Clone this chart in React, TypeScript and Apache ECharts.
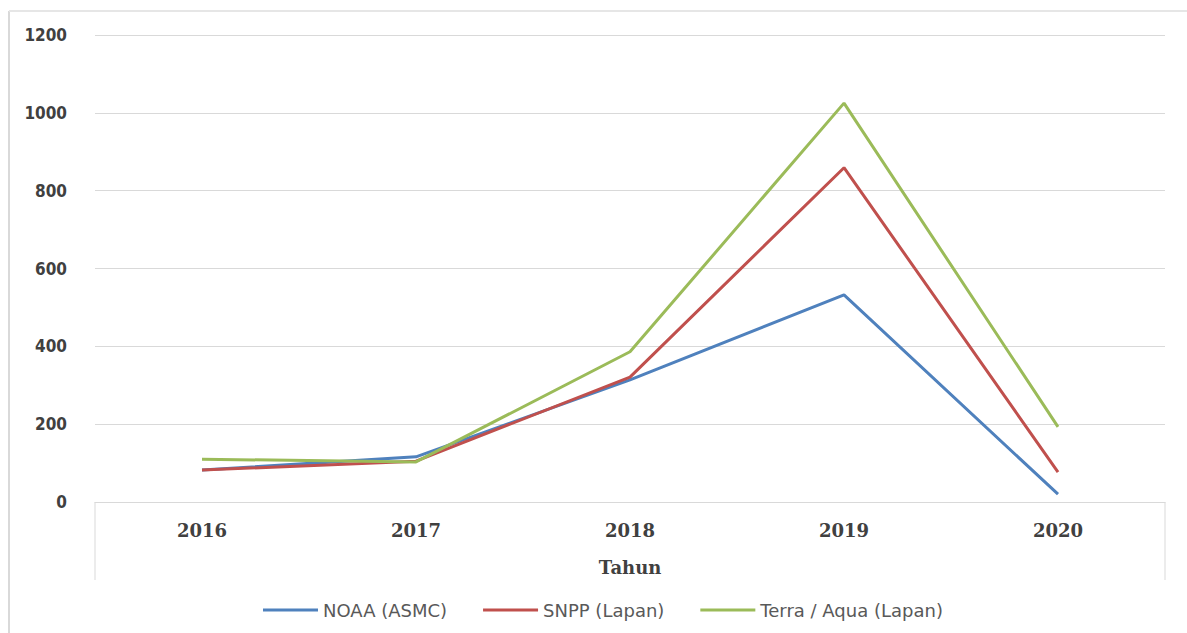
import React, { useEffect, useRef } from "react";
import * as echarts from "echarts";

const categories = ["2016", "2017", "2018", "2019", "2020"];
const noaa = [82, 116, 314, 532, 20];
const snpp = [82, 105, 321, 859, 77];
const terra = [110, 103, 386, 1025, 193];
const seriesNames = ["NOAA (ASMC)", "SNPP (Lapan)", "Terra / Aqua (Lapan)"];
const yTicks = { min: 0, max: 1200, interval: 200 };

export default function App() {
  const ref = useRef<HTMLDivElement>(null);
  useEffect(() => {
    if (!ref.current) return;
    const chart = echarts.init(ref.current, undefined, { renderer: "svg" });
    const lineStyle = (c: string) => ({ color: c, width: 3 });
    chart.setOption({
      animation: false,
      backgroundColor: "#ffffff",
      grid: { left: 95, right: 22, top: 35, bottom: 131, containLabel: false },
      xAxis: {
        type: "category",
        data: categories,
        boundaryGap: true,
        name: "Tahun",
        nameLocation: "middle",
        nameGap: 56,
        nameTextStyle: {
          fontFamily: "DejaVu Serif",
          fontWeight: "bold",
          fontSize: 18,
          color: "#404040",
        },
        axisLine: { show: true, lineStyle: { color: "#d9d9d9", width: 1 } },
        axisTick: { show: false },
        axisLabel: {
          margin: 19,
          fontFamily: "DejaVu Serif",
          fontWeight: "bold",
          fontSize: 18,
          color: "#404040",
        },
      },
      yAxis: {
        type: "value",
        min: yTicks.min,
        max: yTicks.max,
        interval: yTicks.interval,
        axisLine: { show: false },
        axisTick: { show: false },
        splitLine: { lineStyle: { color: "#d9d9d9", width: 1 } },
        axisLabel: {
          margin: 28,
          formatter: (v: number) => String(v),
          fontFamily: "'DejaVu Sans Condensed', 'Liberation Sans Narrow', 'Roboto Condensed', sans-serif",
          fontWeight: "bold",
          fontSize: 17,
          color: "#404040",
        },
      },
      legend: {
        left: 258,
        top: 596,
        itemWidth: 55,
        itemHeight: 3,
        itemGap: 36,
        icon: "rect",
        textStyle: { fontFamily: "DejaVu Sans", fontSize: 18, color: "#595959" },
        data: seriesNames,
      },
      series: [
        { name: seriesNames[0], type: "line", data: noaa, showSymbol: false, symbol: "none", color: "#4f81bd", lineStyle: lineStyle("#4f81bd") },
        { name: seriesNames[1], type: "line", data: snpp, showSymbol: false, symbol: "none", color: "#c0504d", lineStyle: lineStyle("#c0504d") },
        { name: seriesNames[2], type: "line", data: terra, showSymbol: false, symbol: "none", color: "#9bbb59", lineStyle: lineStyle("#9bbb59") },
      ],
      graphic: [
        { type: "line", shape: { x1: 95, y1: 502, x2: 95, y2: 580 }, style: { stroke: "#d9d9d9", lineWidth: 1 } },
        { type: "line", shape: { x1: 1165, y1: 502, x2: 1165, y2: 580 }, style: { stroke: "#d9d9d9", lineWidth: 1 } },
        { type: "line", shape: { x1: 9, y1: 11, x2: 9, y2: 633 }, style: { stroke: "#d9d9d9", lineWidth: 2 } },
        { type: "line", shape: { x1: 9, y1: 11, x2: 1187, y2: 11 }, style: { stroke: "#e6e6e6", lineWidth: 2 } },
      ],
    });
    return () => chart.dispose();
  }, []);
  return (
    <div
      ref={ref}
      style={{ position: "fixed", left: 0, top: 0, width: 1187, height: 633 }}
    />
  );
}
